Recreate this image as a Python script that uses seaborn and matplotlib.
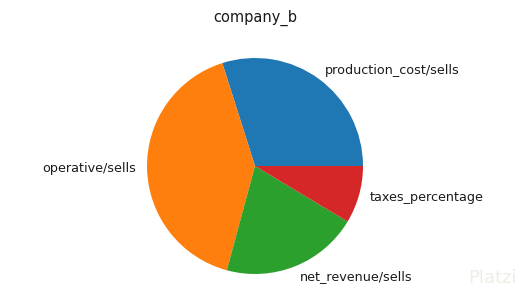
import matplotlib
matplotlib.use("Agg")
import matplotlib.pyplot as plt
import seaborn as sns

labels = ["production_cost/sells", "operative/sells", "net_revenue/sells", "taxes_percentage"]
values = [29.9, 40.9, 20.6, 8.6]
title = "company_b"

sns.set_style("white")
plt.rcParams['font.family'] = ['DejaVu Sans']
colors = sns.color_palette("tab10", 4)

W, H = 523, 296
fig = plt.figure(figsize=(W / 100, H / 100), dpi=100)
cx, cy, r = 255, 166, 108
ax = fig.add_axes([(cx - r) / W, (H - cy - r) / H, 2 * r / W, 2 * r / H])
ax.pie(values, labels=labels, colors=colors,
       wedgeprops={"linewidth": 0, "edgecolor": "none"},
       textprops={"fontsize": 9.2, "color": "#1a1a1a"})
ax.set_xlim(-1, 1)
ax.set_ylim(-1, 1)
ax.set_aspect("equal")
ax.axis("off")
fig.text(cx / W, 1 - 18 / H, title, ha="center", va="center", fontsize=10.5, color="#1a1a1a")
fig.text(517 / W, 1 - 278 / H, "Platzi", ha="right", va="center", fontsize=13, color="#eeeee6")
fig.savefig("out.png", dpi=100, facecolor="white")
